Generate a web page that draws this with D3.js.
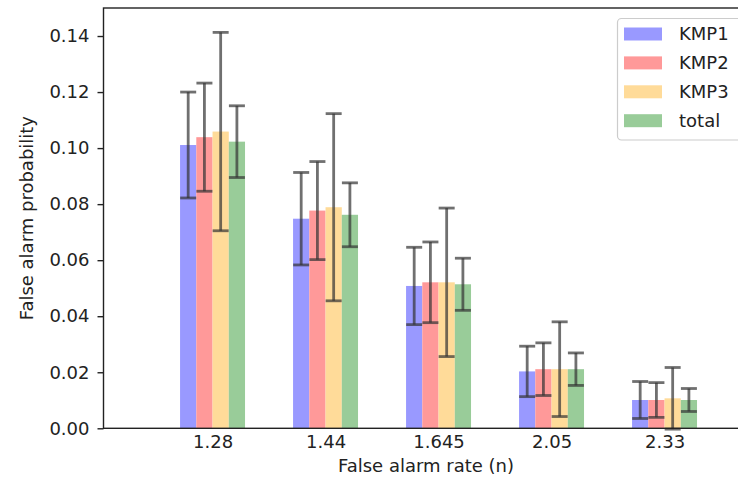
<!DOCTYPE html>
<html lang="en">
<head>
    <meta charset="UTF-8">
    <title>False alarm probability</title>
    <script src="https://cdn.jsdelivr.net/npm/d3@7"></script>
    <style>
        body { margin: 0; background: #fff; }
        svg text { font-family: "DejaVu Sans", sans-serif; fill: #222; }
    </style>
</head>
<body>
    <script>
    // data
    var categories = ["1.28", "1.44", "1.645", "2.05", "2.33"];
    var seriesNames = ["KMP1", "KMP2", "KMP3", "total"];
    var kmp1 = [0.1011, 0.0748, 0.0508, 0.0203, 0.0101];
    var kmp1Err = [0.0189, 0.0165, 0.0138, 0.0090, 0.0066];
    var kmp2 = [0.1039, 0.0777, 0.0521, 0.0211, 0.0101];
    var kmp2Err = [0.0193, 0.0175, 0.0144, 0.0094, 0.0062];
    var kmp3 = [0.1059, 0.0789, 0.0521, 0.0211, 0.0107];
    var kmp3Err = [0.0354, 0.0334, 0.0265, 0.0169, 0.0110];
    var total = [0.1023, 0.0762, 0.0514, 0.0211, 0.0101];
    var totalErr = [0.0128, 0.0114, 0.0093, 0.0058, 0.0041];
    var yTicks = [0, 0.02, 0.04, 0.06, 0.08, 0.10, 0.12, 0.14];

    var values = [kmp1, kmp2, kmp3, total];
    var errors = [kmp1Err, kmp2Err, kmp3Err, totalErr];
    var colors = ["#9999ff", "#ff9999", "#ffdb99", "#99cc99"];

    var width = 738, height = 479;
    // plot area (right edge lies just outside the picture)
    var plotLeft = 103.5, plotRight = 748.5, plotTop = 8, plotBottom = 428.3;

    var svg = d3.select("body").append("svg")
        .attr("width", width).attr("height", height);

    // scales
    var x = d3.scaleLinear().domain([-0.965, 4.743]).range([plotLeft, plotRight]);
    var sub = d3.scaleBand().domain(seriesNames).range([-0.2875, 0.2875]);
    var y = d3.scaleLinear().domain([0, 0.15]).range([plotBottom, plotTop]);
    var color = d3.scaleOrdinal().domain(seriesNames).range(colors);

    // flat list of bars
    var rows = [];
    seriesNames.forEach(function(s, si) {
        categories.forEach(function(c, ci) {
            rows.push({ series: s, cat: ci, value: values[si][ci], err: errors[si][ci] });
        });
    });

    var barW = x(sub.bandwidth()) - x(0);

    svg.append("g").selectAll("rect")
        .data(rows)
        .enter()
        .append("rect")
        .attr("x", function(d) { return x(d.cat + sub(d.series)); })
        .attr("y", function(d) { return y(d.value); })
        .attr("width", barW)
        .attr("height", function(d) { return y(0) - y(d.value); })
        .attr("fill", function(d) { return color(d.series); });

    // error bars
    var eb = svg.append("g")
        .attr("stroke", "#333")
        .attr("stroke-opacity", 0.7)
        .attr("stroke-width", 2.8)
        .selectAll("g")
        .data(rows)
        .enter()
        .append("g")
        .attr("transform", function(d) {
            return "translate(" + (x(d.cat + sub(d.series)) + barW / 2) + ",0)";
        });

    eb.append("line")
        .attr("y1", function(d) { return y(d.value + d.err); })
        .attr("y2", function(d) { return y(d.value - d.err); });
    eb.append("line")
        .attr("x1", -8).attr("x2", 8)
        .attr("y1", function(d) { return y(d.value + d.err); })
        .attr("y2", function(d) { return y(d.value + d.err); });
    eb.append("line")
        .attr("x1", -8).attr("x2", 8)
        .attr("y1", function(d) { return y(d.value - d.err); })
        .attr("y2", function(d) { return y(d.value - d.err); });

    // axes
    var xAxis = svg.append("g")
        .attr("transform", "translate(0," + plotBottom + ")")
        .call(d3.axisBottom(x)
            .tickValues(d3.range(categories.length))
            .tickFormat(function(i) { return categories[i]; })
            .tickSize(0).tickPadding(7));

    var yAxis = svg.append("g")
        .attr("transform", "translate(" + plotLeft + ",0)")
        .call(d3.axisLeft(y)
            .tickValues(yTicks)
            .tickFormat(d3.format(".2f"))
            .tickSize(6).tickPadding(8));

    [xAxis, yAxis].forEach(function(a) {
        a.select(".domain").remove();
        a.selectAll("line").attr("stroke", "#222").attr("stroke-width", 1.4);
        a.selectAll("text").attr("font-size", "18px").attr("fill", "#222")
            .style("font-family", "'DejaVu Sans', sans-serif");
    });

    // frame
    svg.append("rect")
        .attr("x", plotLeft).attr("y", plotTop)
        .attr("width", plotRight - plotLeft).attr("height", plotBottom - plotTop)
        .attr("fill", "none").attr("stroke", "#222").attr("stroke-width", 1.4);

    // axis titles
    svg.append("text")
        .attr("x", (plotLeft + plotRight) / 2).attr("y", 472)
        .attr("text-anchor", "middle").attr("font-size", "18px")
        .text("False alarm rate (n)");

    svg.append("text")
        .attr("transform", "translate(33," + (plotTop + plotBottom) / 2 + ") rotate(-90)")
        .attr("text-anchor", "middle").attr("font-size", "18px")
        .text("False alarm probability");

    // legend
    var lg = svg.append("g");
    lg.append("rect")
        .attr("x", 617.5).attr("y", 18.5).attr("rx", 4)
        .attr("width", 140).attr("height", 121.5)
        .attr("fill", "#fff").attr("fill-opacity", 0.8)
        .attr("stroke", "#ccc").attr("stroke-width", 1.2);

    var items = lg.selectAll(".item")
        .data(seriesNames)
        .enter()
        .append("g")
        .attr("class", "item")
        .attr("transform", function(d, i) { return "translate(624," + (34 + i * 28.9) + ")"; });

    items.append("rect")
        .attr("x", 0).attr("y", -6.5)
        .attr("width", 38).attr("height", 13)
        .attr("fill", function(d) { return color(d); });

    items.append("text")
        .attr("x", 55).attr("dy", "0.36em")
        .attr("font-size", "18px")
        .text(function(d) { return d; });
    </script>
</body>
</html>
